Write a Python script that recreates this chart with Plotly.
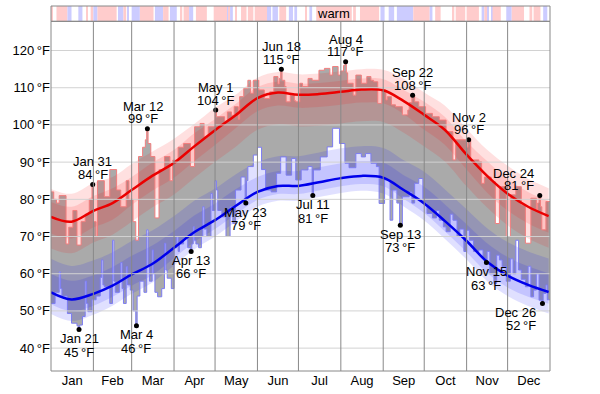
import plotly.graph_objects as go

# ---------------- data ----------------
MONTHS = ["Jan", "Feb", "Mar", "Apr", "May", "Jun", "Jul", "Aug", "Sep", "Oct", "Nov", "Dec"]
MONTH_START = [0, 31, 59, 90, 120, 151, 181, 212, 243, 273, 304, 334, 365]
Y_TICKS = [40, 50, 60, 70, 80, 90, 100, 110, 120]

# smooth normals (day of year)
ANCHOR_DAY = [0, 15, 31, 45, 59, 74, 90, 105, 120, 135, 151, 166, 181, 196, 212, 227, 243, 258, 273, 288, 304, 319, 334, 349, 364]
MEAN_HIGH = [75.3, 74.0, 76.9, 79.0, 82.5, 86.3, 89.8, 94.3, 98.6, 102.6, 107.2, 108.7, 108.1, 108.3, 108.9, 109.5, 109.3, 106.4, 102.7, 98.7, 92.0, 86.3, 81.5, 78.0, 75.5]
MEAN_LOW = [55.0, 53.1, 54.6, 56.8, 59.8, 62.6, 67.0, 71.2, 74.4, 78.2, 82.0, 83.6, 83.6, 84.6, 85.7, 86.3, 85.8, 82.5, 78.9, 74.2, 68.8, 63.2, 59.5, 57.0, 55.1]
HI_P90_OFF = [7.5, 7.5, 7.5, 7, 7, 6.5, 6.5, 6, 6, 5.5, 5.5, 5.5, 5.5, 5.5, 5.5, 5.5, 5.5, 6, 6, 6.5, 7, 7, 7.5, 7.5, 7.5]
HI_P75_OFF = [4, 4, 4, 4, 3.5, 3.5, 3.5, 3.5, 3, 3, 3, 3, 3, 3, 3, 3, 3, 3, 3.5, 3.5, 3.5, 4, 4, 4, 4]
HI_P25_OFF = [-4.5, -4.5, -4.5, -4.5, -4, -4, -4, -4, -4, -3.5, -3.5, -3.5, -3.5, -3.5, -3.5, -3.5, -3.5, -3.5, -4, -4, -4, -4.5, -4.5, -4.5, -4.5]
HI_P10_OFF = [-8.5] * 25
LO_P90_OFF = [9, 9, 9, 9, 9, 9, 8.5, 8.5, 8.5, 8.5, 8, 8, 8, 8, 8, 8, 8, 8, 8.5, 8.5, 8.5, 9, 9, 9, 9]
LO_P75_OFF = [5, 5, 5, 5, 5, 5, 4.5, 4.5, 4.5, 4.5, 4, 4, 4, 4, 4, 4, 4, 4, 4.5, 4.5, 4.5, 5, 5, 5, 5]
LO_P25_OFF = [-3.2, -3.2, -3.2, -3, -3, -3, -2.8, -2.6, -2.4, -2.3, -2.2, -2.2, -2.2, -2.2, -2.2, -2.2, -2.3, -2.4, -2.6, -2.8, -3, -3, -3.2, -3.2, -3.2]
LO_P10_OFF = [-5.8, -5.8, -5.6, -5.4, -5.2, -5, -4.8, -4.6, -4.4, -4.2, -4, -4, -4, -4, -4, -4, -4.2, -4.4, -4.6, -4.8, -5, -5.2, -5.5, -5.7, -5.8]

# daily highs as runs: start day, value
HIGH_START = [0, 2, 4, 6, 11, 13, 16, 19, 22, 25, 28, 30, 31, 33, 34, 39, 43, 48, 51, 55, 57, 60, 62, 64, 67, 69, 70, 71, 73, 76, 79, 83, 87, 89, 93, 97, 102, 105, 109, 112, 115, 120, 121,
              127, 129, 132, 134, 137, 138, 141, 144, 146, 148, 152, 156, 160, 163, 166, 167, 168, 169, 171, 172, 175, 178, 179, 182, 184, 188, 191, 196, 200, 204, 206, 210, 212, 214, 215, 216, 217, 221, 223, 227, 231, 234, 236, 239, 242, 245, 246, 249, 252, 257, 261, 262, 264, 266, 269, 274, 279, 284, 289, 294, 296, 304, 305, 307, 313, 315, 317, 322, 325, 328, 333, 336, 340, 344, 347, 351, 355, 356, 357, 358, 359, 362]
HIGH_VALUE = [82, 80, 79, 81, 68, 72.5, 77, 67.7, 74, 76, 80, 84, 74, 70, 85, 80.7, 88, 82.5, 78, 85, 80, 74, 69, 91.5, 94, 96, 99, 95, 91.5, 75, 88, 91.5, 85, 90.5, 94, 95, 88.8, 99.5, 100.4, 96.8, 99.5, 104, 102.2,
              101, 103.5, 102.6, 104.9, 101.5, 107.6, 109.8, 112, 108.5, 112, 109.4, 107.1, 108.9, 113, 111, 112.5, 115, 112, 110.3, 106.2, 108, 106.5, 106.2, 111.2, 110.3, 112.5, 112, 114.7, 115.2, 113.4, 115.7, 113.4, 114.5, 116, 117, 114, 111.2, 108, 113.4, 111.2, 113, 112, 111.6, 105.8, 109.4, 106.7, 107.6, 105.4, 104.9, 102.7, 104, 106, 108, 106.2, 104.9, 103.1, 102.2, 101.3, 98.2, 90.6, 96, 94, 96, 90.6, 90.1, 84.3, 86, 84.7, 73.5, 83.4, 70, 81.2, 83.4, 78.5, 68.2, 80.3, 77.1, 79, 81, 78, 71.8, 79.4]

# daily lows as runs: start day, value
LOW_START = [0, 3, 6, 7, 8, 12, 15, 19, 20, 21, 23, 25, 26, 27, 30, 33, 36, 37, 38, 39, 43, 45, 46, 47, 50, 51, 52, 53, 55, 56, 58, 60, 62, 63, 65, 68, 70, 71, 72, 74, 75, 76, 78, 81, 83, 84, 85, 88, 90, 92, 93, 94, 97, 100, 102, 103, 104, 105, 106, 108, 110, 111, 112, 114, 117, 118, 120, 121, 122, 125, 128, 131, 133, 135, 139, 142, 143, 144, 148, 151, 154, 157, 161, 165, 168, 172, 176, 179, 183, 188, 191, 192, 197, 202, 206, 211, 215, 218, 223, 227, 230, 234, 238, 240, 244, 248, 250, 253, 255, 257, 262, 264, 266, 269, 272, 275, 279, 282, 284, 287, 289, 292, 294, 297, 299, 302, 304, 306, 309, 313, 316, 318, 319, 321, 324, 326, 328, 330, 333, 336, 338, 340, 342, 344, 347, 349, 351, 353, 355, 357, 359, 360, 362, 363]
LOW_VALUE = [52, 55, 60.5, 56, 54, 49.3, 46.7, 46, 45, 46.2, 48.5, 58, 52, 49.8, 53, 54, 59, 63.7, 57, 56.5, 52, 69, 58, 55, 58, 63, 56, 52, 61.9, 57, 55.6, 50, 46, 54, 58, 55, 71.8, 62, 58, 66.4, 60, 55, 53.8, 56, 68.2, 61, 58.8, 56, 67, 70, 66, 68, 69.5, 67, 66, 68, 72.6, 69, 68, 67, 70, 78, 72, 70, 81.6, 77, 85, 82.5, 77, 75.3, 70, 78, 73.5, 82.5, 86, 79, 85, 88.8, 91.9, 94, 88, 82.5, 82, 87, 91.4, 86.5, 91, 85.2, 87.9, 88.8, 81, 87.9, 91.4, 94.1, 99.1, 95, 89.7, 88.5, 92.3, 91.4, 92.3, 89.7, 88.8, 78.9, 85.2, 74.4, 82.5, 79, 73, 80.7, 82, 79, 84.3, 85.6, 79, 76.2, 75, 77, 74.4, 72.6, 71.3, 76, 74.4, 70, 72, 66, 71.7, 69, 66, 66.4, 64.1, 63, 66, 60, 57.4, 65, 63.7, 61.9, 58, 64, 60, 69, 61, 58.5, 56.5, 62, 53.8, 55.6, 60, 52.9, 52, 54.7, 57, 53]

# warm / cold strip: start day, end day, kind
STRIP_START = [0, 4, 12, 20, 26, 29, 31, 34, 49, 53, 56, 59, 65, 76, 82, 87, 95, 97, 101, 106, 119, 129, 130, 131, 135, 139, 144, 149, 158, 162, 167, 174, 178,
               186, 189, 194, 221, 226, 241, 247, 253, 265, 277, 281, 294, 296, 304, 315, 317, 319, 322, 323, 333, 337, 350, 353, 360]
STRIP_END = [1, 12, 15, 23, 27, 31, 34, 48, 53, 55, 57, 65, 75, 82, 86, 92, 96, 101, 104, 114, 129, 130, 131, 133, 136, 143, 148, 158, 161, 166, 172, 177, 180,
             187, 191, 220, 223, 240, 244, 251, 265, 277, 279, 285, 295, 303, 313, 317, 319, 320, 323, 329, 337, 346, 352, 358, 363]
STRIP_KIND = ["warm", "warm", "cold", "cold", "warm", "warm", "cold", "warm", "cold", "warm", "cold", "cold", "warm", "cold", "warm", "cold", "warm", "warm", "cold", "warm", "warm", "cold", "warm", "cold", "warm", "warm", "warm", "warm", "cold", "cold", "warm", "cold", "cold",
              "warm", "cold", "warm", "warm", "warm", "cold", "cold", "cold", "warm", "cold", "warm", "warm", "warm", "warm", "cold", "warm", "cold", "cold", "warm", "cold", "warm", "warm", "warm", "cold"]

# labelled extremes: day of year, which series, date text, label side
EXT_DAY = [20, 30, 62, 70, 102, 120, 142, 168, 191, 215, 255, 264, 305, 318, 357, 359]
EXT_SERIES = ["low", "high", "low", "high", "low", "high", "low", "high", "low", "high", "low", "high", "high", "low", "high", "low"]
EXT_DATE = ["Jan 21", "Jan 31", "Mar 4", "Mar 12", "Apr 13", "May 1", "May 23", "Jun 18", "Jul 11", "Aug 4", "Sep 13", "Sep 22", "Nov 2", "Nov 15", "Dec 24", "Dec 26"]
EXT_SIDE = ["below", "above", "below", "above", "below", "above", "below", "above", "below", "above", "below", "above", "above", "below", "above", "below"]

# ---------------- styling ----------------
FONT = "Liberation Sans, Arial, sans-serif"
GRAY_FILL = "rgb(170,170,170)"
RED_BAND = "rgba(255,0,0,0.12)"
BLUE_BAND = "rgba(0,0,255,0.12)"
FRAME = "rgb(136,136,136)"
GRID = "rgb(210,210,210)"
N_DAYS = 365


def runs_to_steps(starts, values, end=N_DAYS):
    xs, ys = [], []
    for i, (s, v) in enumerate(zip(starts, values)):
        e = starts[i + 1] if i + 1 < len(starts) else end
        xs += [s, e]
        ys += [v, v]
    return xs, ys


def value_on(starts, values, day):
    v = values[0]
    for s, val in zip(starts, values):
        if s <= day:
            v = val
    return v


hx, hy = runs_to_steps(HIGH_START, HIGH_VALUE)
lx, ly = runs_to_steps(LOW_START, LOW_VALUE)

fig = go.Figure()

# daily range (gray)
fig.add_trace(go.Scatter(x=hx + lx[::-1], y=hy + ly[::-1], fill="toself", fillcolor=GRAY_FILL,
                         mode="lines", line=dict(width=0), hoverinfo="skip"))


def add_band(mean, lo_off, hi_off, color):
    lo = [m + o for m, o in zip(mean, lo_off)]
    hi = [m + o for m, o in zip(mean, hi_off)]
    fig.add_trace(go.Scatter(x=ANCHOR_DAY, y=lo, mode="lines", line=dict(width=0, shape="spline"), hoverinfo="skip"))
    fig.add_trace(go.Scatter(x=ANCHOR_DAY, y=hi, mode="lines", line=dict(width=0, shape="spline"),
                             fill="tonexty", fillcolor=color, hoverinfo="skip"))


add_band(MEAN_HIGH, HI_P10_OFF, HI_P90_OFF, RED_BAND)
add_band(MEAN_HIGH, HI_P25_OFF, HI_P75_OFF, RED_BAND)
add_band(MEAN_LOW, LO_P10_OFF, LO_P90_OFF, BLUE_BAND)
add_band(MEAN_LOW, LO_P25_OFF, LO_P75_OFF, BLUE_BAND)

# step outlines
fig.add_trace(go.Scatter(x=hx, y=hy, mode="lines", line=dict(color="rgb(242,125,125)", width=1), hoverinfo="skip"))
fig.add_trace(go.Scatter(x=lx, y=ly, mode="lines", line=dict(color="rgb(125,125,242)", width=1), hoverinfo="skip"))

# normals
fig.add_trace(go.Scatter(x=ANCHOR_DAY, y=MEAN_HIGH, mode="lines", line=dict(color="rgb(235,0,0)", width=2.5, shape="spline")))
fig.add_trace(go.Scatter(x=ANCHOR_DAY, y=MEAN_LOW, mode="lines", line=dict(color="rgb(0,0,235)", width=2.5, shape="spline")))

# extremes
ext_x, ext_y = [], []
annotations = []
for day, ser, date, side in zip(EXT_DAY, EXT_SERIES, EXT_DATE, EXT_SIDE):
    v = value_on(HIGH_START, HIGH_VALUE, day) if ser == "high" else value_on(LOW_START, LOW_VALUE, day)
    x = day + 0.5
    ext_x.append(x)
    ext_y.append(v)
    near_edge = day > 350
    xanchor = "right" if near_edge else "center"
    xshift = -4 if near_edge else (-4 if date == "Mar 12" else 0)
    if side == "above":
        shifts = [(date, 22.5), (f"{round(v)}\u2009°F", 10)]
    else:
        shifts = [(date, -9), (f"{round(v)}\u2009°F", -22.5)]
    for txt, ys in shifts:
        annotations.append(dict(x=x, y=v, xref="x", yref="y", text=txt, showarrow=False,
                                xanchor=xanchor, yanchor="middle", xshift=xshift, yshift=ys,
                                font=dict(family=FONT, size=13, color="black")))
fig.add_trace(go.Scatter(x=ext_x, y=ext_y, mode="markers", marker=dict(color="black", size=5)))

# warm/cold strip
strip_colors = {"warm": "rgb(255,204,204)", "cold": "rgb(204,204,255)"}
fig.add_trace(go.Bar(x=[(s + e) / 2 for s, e in zip(STRIP_START, STRIP_END)],
                     y=[1] * len(STRIP_START), base=0,
                     width=[e - s for s, e in zip(STRIP_START, STRIP_END)],
                     marker=dict(color=[strip_colors[k] for k in STRIP_KIND], line=dict(width=0)),
                     xaxis="x", yaxis="y2", hoverinfo="skip"))
longest = max(range(len(STRIP_KIND)), key=lambda i: (STRIP_END[i] - STRIP_START[i]) if STRIP_KIND[i] == "warm" else -1)
annotations.append(dict(x=(STRIP_START[longest] + STRIP_END[longest]) / 2, y=0.5, xref="x", yref="y2",
                        text=STRIP_KIND[longest], showarrow=False, font=dict(family=FONT, size=13, color="black")))

shapes = []
for t in Y_TICKS:
    shapes.append(dict(type="line", xref="x domain", x0=0, x1=1, yref="y", y0=t, y1=t,
                       line=dict(color=GRID, width=1), layer="above"))
for m in MONTH_START[1:-1]:
    shapes.append(dict(type="line", xref="x", x0=m, x1=m, yref="y domain", y0=0, y1=1,
                       line=dict(color=FRAME, width=1), layer="above"))
shapes.append(dict(type="rect", xref="x domain", x0=0, x1=1, yref="y domain", y0=0, y1=1,
                   line=dict(color=FRAME, width=1), layer="above"))
shapes.append(dict(type="rect", xref="x domain", x0=0, x1=1, yref="y2 domain", y0=0, y1=1,
                   line=dict(color=FRAME, width=1), layer="above"))

month_mid = [(a + b) / 2 for a, b in zip(MONTH_START[:-1], MONTH_START[1:])]
fig.update_layout(
    width=600, height=394,
    margin=dict(l=50.5, r=50, t=6, b=23),
    plot_bgcolor="white", paper_bgcolor="white",
    showlegend=False, barmode="overlay",
    font=dict(family=FONT, size=13, color="black"),
    xaxis=dict(range=[0, N_DAYS], tickvals=month_mid, ticktext=MONTHS, ticks="",
               showgrid=False, zeroline=False, showline=False, fixedrange=True,
               tickfont=dict(family=FONT, size=13, color="black")),
    yaxis=dict(domain=[0, 0.958], range=[33.85, 127.85], tickvals=Y_TICKS,
               ticktext=[f"{t}\u2009°F" for t in Y_TICKS], ticks="",
               showgrid=False, zeroline=False, showline=False, fixedrange=True,
               tickfont=dict(family=FONT, size=13, color="black")),
    yaxis2=dict(domain=[0.958, 1], range=[0, 1], showticklabels=False, showgrid=False,
                zeroline=False, showline=False, fixedrange=True, anchor="x"),
    shapes=shapes,
    annotations=annotations,
)

fig.write_html("out.html", config={"displayModeBar": False},
               post_script="document.body.style.margin='0';document.body.style.padding='0';")
